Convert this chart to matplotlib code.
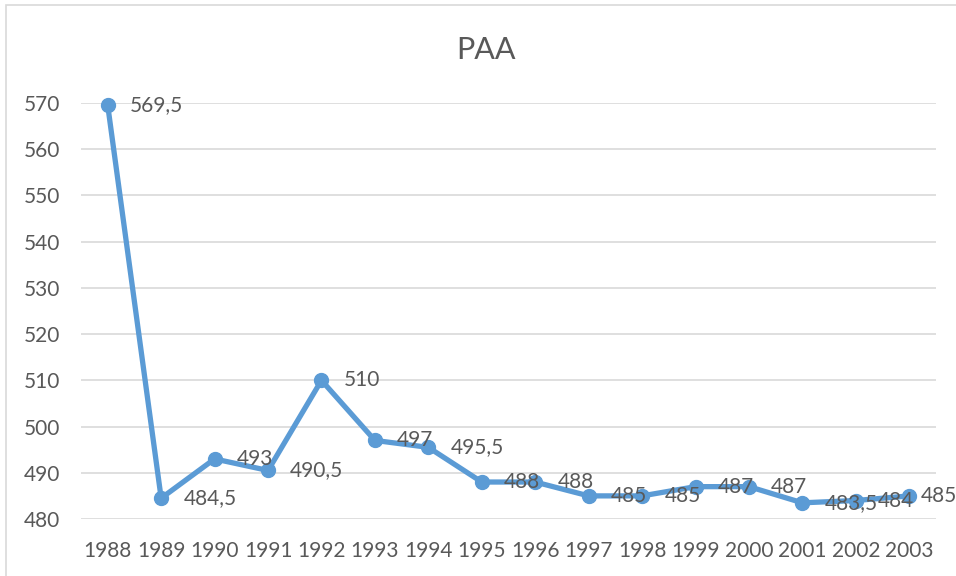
import matplotlib.pyplot as plt
from matplotlib.patches import Rectangle

years = ['1988', '1989', '1990', '1991', '1992', '1993', '1994', '1995',
         '1996', '1997', '1998', '1999', '2000', '2001', '2002', '2003']
paa = [569.5, 484.5, 493, 490.5, 510, 497, 495.5, 488,
       488, 485, 485, 487, 487, 483.5, 484, 485]

plt.rcParams['font.family'] = ['Lato', 'DejaVu Sans']
txt = '#595959'
blue = '#5B9BD5'

fig = plt.figure(figsize=(9.56, 5.76), dpi=100)
ax = fig.add_axes([81 / 956, 1 - 519 / 576, (936 - 81) / 956, (519 - 103) / 576])

x = list(range(len(years)))
ax.plot(x, paa, color=blue, lw=3.8, marker='o', ms=10, clip_on=False, zorder=3)

def fmt(v):
    return ('%g' % v).replace('.', ',')

for xi, v in zip(x, paa):
    # last label is pushed in a bit so it stays inside the chart
    dx = 8 if xi == x[-1] else 16
    ax.annotate(fmt(v), (xi, v), xytext=(dx, 0), textcoords='offset points',
                ha='left', va='center', fontsize=15, color=txt, zorder=4,
                annotation_clip=False)

ax.set_xlim(-0.5, len(years) - 0.5)
ax.set_ylim(480, 570)
ax.set_yticks(range(480, 571, 10))
ax.set_xticks(x)
ax.set_xticklabels(years)
ax.grid(axis='y', color='#D9D9D9', lw=1.2)
ax.set_axisbelow(True)
for s in ax.spines.values():
    s.set_visible(False)
ax.tick_params(axis='both', length=0, labelsize=15, labelcolor=txt)
ax.tick_params(axis='y', pad=15)
ax.tick_params(axis='x', pad=16)

fig.text(486 / 956, 1 - 50 / 576, 'PAA', ha='center', va='center',
         fontsize=22, color=txt)

fig.patches.append(Rectangle((6 / 956, -0.1), 1.2, 1.1 - 5 / 576,
                             transform=fig.transFigure, fill=False,
                             edgecolor='#D9D9D9', lw=1.2))

fig.savefig('out.png', dpi=100)
